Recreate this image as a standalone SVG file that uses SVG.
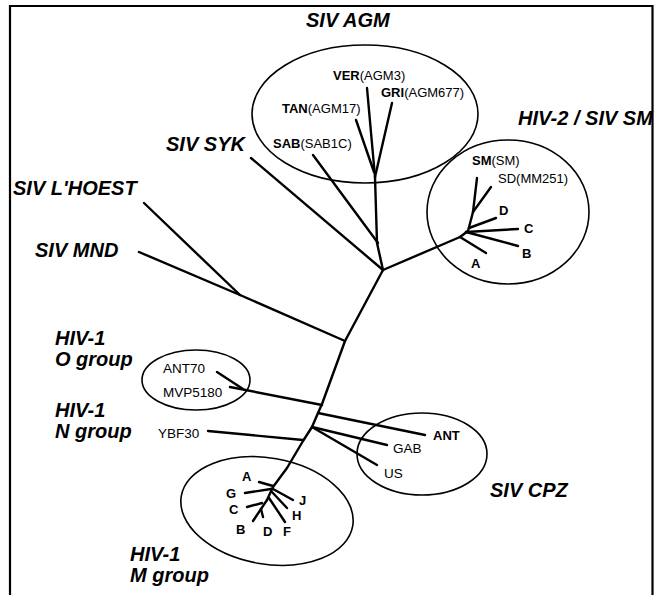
<svg xmlns="http://www.w3.org/2000/svg" width="657" height="595" viewBox="0 0 657 595">
<style>
.frame{fill:none;stroke:#000;stroke-width:2.2}
.br{fill:none;stroke:#000;stroke-width:2.4;stroke-linecap:round;stroke-linejoin:round}
.ell{fill:none;stroke:#000;stroke-width:1.6}
.grp{font-family:"Liberation Sans",Arial,sans-serif;font-size:20px;font-weight:bold;font-style:italic;fill:#000}
.lf{font-family:"Liberation Sans",Arial,sans-serif;font-size:13px;fill:#000}
.lb{font-family:"Liberation Sans",Arial,sans-serif;font-size:13px;font-weight:bold;fill:#000}
.b{font-weight:bold}
</style>
<rect width="657" height="595" fill="#fff"/>
<path class="frame" d="M10,595 V6 H652.5 V595"/>

<g id="connectors">
  <polyline class="br" points="383,270 345,341 322,404 318,413 312,427 303,441 287,468 273,487"/>
  <polyline class="br" points="383,270 377,243 375,177"/>
  <line class="br" x1="367" y1="88" x2="375" y2="177"/>
  <line class="br" x1="392" y1="103" x2="375" y2="177"/>
  <line class="br" x1="356" y1="120" x2="374" y2="172"/>
  <line class="br" x1="313" y1="155" x2="378" y2="243"/>
  <line class="br" x1="251" y1="158" x2="383" y2="270"/>
  <polyline class="br" points="383,270 460,237 468,231 473,212"/>
  <line class="br" x1="473" y1="212" x2="477" y2="178"/>
  <line class="br" x1="473" y1="212" x2="491" y2="187"/>
  <line class="br" x1="469" y1="228" x2="496" y2="218"/>
  <line class="br" x1="466" y1="232" x2="518" y2="229"/>
  <line class="br" x1="466" y1="232" x2="518" y2="246"/>
  <line class="br" x1="460" y1="237" x2="486" y2="253"/>
  <line class="br" x1="144" y1="203" x2="240" y2="295"/>
  <line class="br" x1="139" y1="252" x2="240" y2="295"/>
  <line class="br" x1="240" y1="295" x2="345" y2="341"/>
  <line class="br" x1="230" y1="387" x2="322" y2="405"/>
  <line class="br" x1="217" y1="372" x2="243" y2="389"/>
  <line class="br" x1="208" y1="431" x2="303" y2="440"/>
  <line class="br" x1="318" y1="413" x2="425" y2="435"/>
  <line class="br" x1="312" y1="427" x2="387" y2="445"/>
  <line class="br" x1="312" y1="427" x2="377" y2="465"/>
  <line class="br" x1="259" y1="482" x2="273" y2="486"/>
  <line class="br" x1="245" y1="493" x2="271" y2="489"/>
  <line class="br" x1="273" y1="489" x2="293" y2="500"/>
  <line class="br" x1="272" y1="492" x2="287" y2="508"/>
  <polyline class="br" points="273,487 267,500"/>
  <line class="br" x1="269" y1="498" x2="285" y2="522"/>
  <line class="br" x1="247" y1="507" x2="262" y2="503"/>
  <line class="br" x1="253" y1="521" x2="267" y2="500"/>
  <line class="br" x1="261" y1="509" x2="263" y2="517"/>
</g>

<g id="agm">
  <ellipse class="ell" cx="365" cy="114" rx="113" ry="69"/>
  <text class="grp" x="306" y="27">SIV AGM</text>
  <text class="lf" x="333" y="80"><tspan class="b">VER</tspan>(AGM3)</text>
  <text class="lf" x="381" y="97"><tspan class="b">GRI</tspan>(AGM677)</text>
  <text class="lf" x="282" y="113"><tspan class="b">TAN</tspan>(AGM17)</text>
  <text class="lf" x="273" y="148"><tspan class="b">SAB</tspan>(SAB1C)</text>
</g>

<g id="sm">
  <ellipse class="ell" cx="508" cy="212" rx="81" ry="72"/>
  <text class="grp" x="518" y="125">HIV-2 / SIV SM</text>
  <text class="lf" x="472" y="165"><tspan class="b">SM</tspan>(SM)</text>
  <text class="lf" x="498" y="183">SD(MM251)</text>
  <text class="lb" x="499" y="215">D</text>
  <text class="lb" x="524" y="233">C</text>
  <text class="lb" x="522" y="258">B</text>
  <text class="lb" x="471" y="268">A</text>
</g>

<g id="syk"><text class="grp" x="166" y="151">SIV SYK</text></g>
<g id="lhoest"><text class="grp" x="13" y="195">SIV L'HOEST</text></g>
<g id="mnd"><text class="grp" x="35" y="257">SIV MND</text></g>

<g id="ogroup">
  <ellipse class="ell" cx="196" cy="380" rx="54" ry="30"/>
  <text class="grp" x="55" y="345">HIV-1</text>
  <text class="grp" x="55" y="366">O group</text>
  <text class="lf" x="163" y="373" style="font-size:13.5px">ANT70</text>
  <text class="lf" x="163" y="397" style="font-size:13.5px">MVP5180</text>
</g>

<g id="ngroup">
  <text class="grp" x="55" y="417">HIV-1</text>
  <text class="grp" x="55" y="438">N group</text>
  <text class="lf" x="158" y="438" style="font-size:13.5px">YBF30</text>
</g>

<g id="cpz">
  <ellipse class="ell" cx="422" cy="454" rx="65" ry="41"/>
  <text class="lb" x="433" y="440">ANT</text>
  <text class="lf" x="393" y="453" style="font-size:13.5px">GAB</text>
  <text class="lf" x="384" y="478" style="font-size:13.5px">US</text>
  <text class="grp" x="490" y="497">SIV CPZ</text>
</g>

<g id="mgroup">
  <ellipse class="ell" cx="267" cy="511" rx="87" ry="53" transform="rotate(10 267 511)"/>
  <text class="lb" x="242" y="481">A</text>
  <text class="lb" x="226" y="498">G</text>
  <text class="lb" x="229" y="514">C</text>
  <text class="lb" x="236" y="534">B</text>
  <text class="lb" x="263" y="536">D</text>
  <text class="lb" x="283" y="536">F</text>
  <text class="lb" x="292" y="520">H</text>
  <text class="lb" x="299" y="505">J</text>
  <text class="grp" x="130" y="561">HIV-1</text>
  <text class="grp" x="130" y="582">M group</text>
</g>
</svg>
